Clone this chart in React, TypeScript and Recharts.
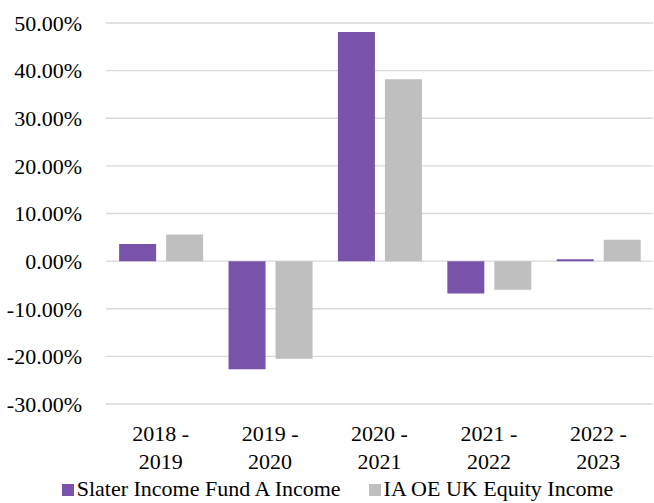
// annual returns of the fund against its sector average
import { BarChart, Bar, XAxis, YAxis, CartesianGrid, Legend } from "recharts";

const periods = ["2018 - 2019", "2019 - 2020", "2020 - 2021", "2021 - 2022", "2022 - 2023"];
const slater = [3.6, -22.7, 48.1, -6.8, 0.4];
const sector = [5.6, -20.5, 38.2, -6.0, 4.5];
const yTicks = [-30, -20, -10, 0, 10, 20, 30, 40, 50];

const SERIES = [
  { key: "slater", name: "Slater Income Fund A Income", color: "#7953A9" },
  { key: "sector", name: "IA OE UK Equity Income", color: "#BFBFBF" },
];

const FONT = "Liberation Serif";

const data = periods.map((p, i) => ({ period: p, slater: slater[i], sector: sector[i] }));

// "2018 - 2019" is drawn on two lines, like the original
const PeriodTick = ({ x, y, payload }: any) => {
  const [from, to] = String(payload.value).split(" - ");
  return (
    <text x={x} textAnchor="middle" fill="#000" fontSize={22} fontFamily={FONT}>
      <tspan x={x} y={y + 37}>{from} -</tspan>
      <tspan x={x} y={y + 65}>{to}</tspan>
    </text>
  );
};

const LegendBox = () => (
  <div
    style={{
      display: "flex",
      justifyContent: "center",
      gap: 28,
      height: 28,
      fontFamily: FONT,
      fontSize: 22,
      color: "#000",
      paddingLeft: 22,
      lineHeight: "28px",
    }}
  >
    {SERIES.map((s) => (
      <div key={s.key} style={{ display: "flex", alignItems: "center", whiteSpace: "nowrap" }}>
        <span style={{ width: 12, height: 12, background: s.color, marginRight: 3, marginTop: 2 }} />
        {s.name}
      </div>
    ))}
  </div>
);

export default function App() {
  return (
    <div style={{ position: "absolute", left: 0, top: 0, background: "#fff", fontFamily: FONT }}>
      <BarChart
        width={654}
        height={503}
        data={data}
        margin={{ top: 23, right: 1, bottom: 0, left: 0 }}
        barGap={10}
        barCategoryGap="12%"
      >
        <CartesianGrid vertical={false} stroke="#d9d9d9" strokeWidth={1.3} />
        <XAxis
          dataKey="period"
          axisLine={false}
          tickLine={false}
          tickSize={0}
          tickMargin={0}
          height={71}
          interval={0}
          tick={<PeriodTick />}
        />
        <YAxis
          width={106}
          domain={[-30, 50]}
          ticks={yTicks}
          axisLine={false}
          tickLine={false}
          tickSize={0}
          tickMargin={24}
          tickFormatter={(v: number) => `${v.toFixed(2)}%`}
          tick={{ fill: "#000", fontSize: 22, fontFamily: FONT }}
        />
        <Legend verticalAlign="bottom" height={28} content={<LegendBox />} />
        {SERIES.map((s) => (
          <Bar key={s.key} dataKey={s.key} name={s.name} fill={s.color} isAnimationActive={false} />
        ))}
      </BarChart>
    </div>
  );
}
